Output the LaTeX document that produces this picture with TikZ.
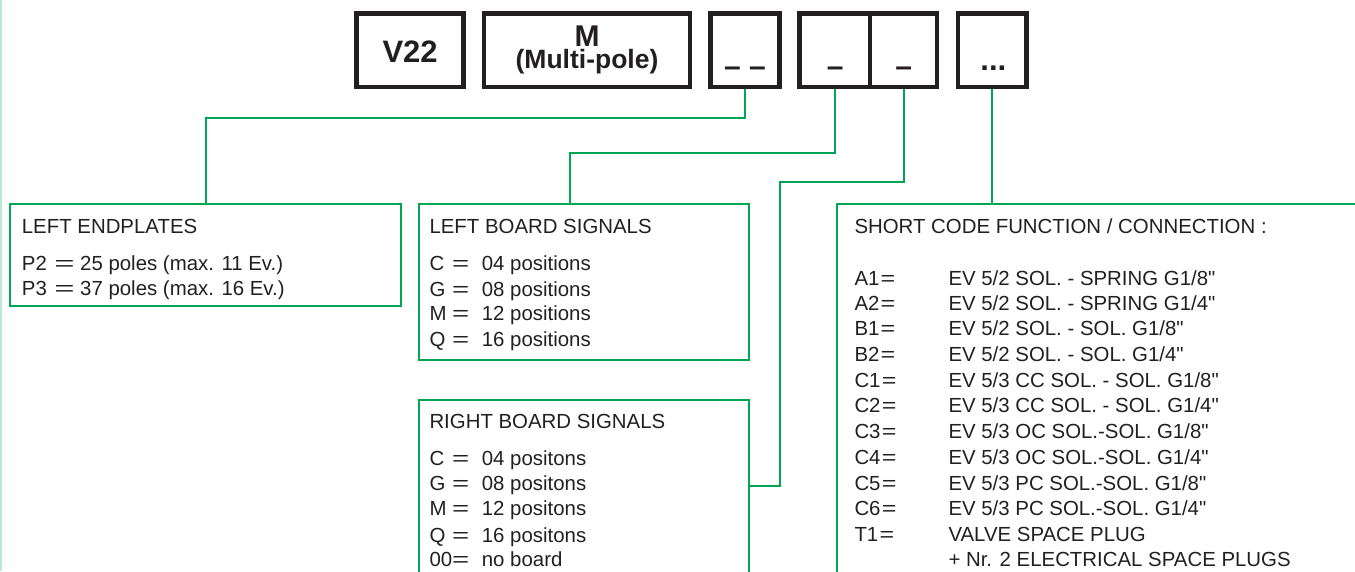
\documentclass[tikz,border=0pt]{standalone}
\usepackage{graphicx}
\usepackage{fontspec}
\setmainfont{Liberation Sans}
\definecolor{grn}{RGB}{0,166,81}
\definecolor{ink}{RGB}{35,31,32}
\definecolor{mint}{RGB}{185,235,212}
\newcommand\myeqsign[1]{\scalebox{#1}[1]{=}}
\begin{document}
\begin{tikzpicture}[x=1pt,y=-1pt,
  topbox/.style={draw=ink,line width=4.5pt,inner sep=0,minimum height=73.7pt},
  grnbox/.style={draw=grn,line width=2pt,inner sep=0},
  conn/.style={draw=grn,line width=2pt},
  txt/.style={anchor=base west,inner sep=0,text=ink,font=\fontsize{20.4}{24}\selectfont},
  btxt/.style={anchor=base,inner sep=0,text=ink}]
\useasboundingbox (0,0) rectangle (1355,571);
\clip (0,0) rectangle (1355,571);
\draw[mint,line width=1.5pt] (0.75,0) -- (0.75,571);

% top code boxes
\node[topbox,minimum width=106.8pt] (v22) at (410.1,50.15) {};
\node[topbox,minimum width=206pt] (mm) at (587,50.15) {};
\node[topbox,minimum width=68.6pt] (dd) at (745,50.15) {};
\node[topbox,minimum width=70.3pt] (s1) at (834.85,50.15) {};
\node[topbox,minimum width=67pt] (s2) at (903.5,50.15) {};
\node[topbox,minimum width=68.7pt] (dots) at (992.35,50.15) {};

\node[btxt,font=\bfseries\fontsize{31}{31}\selectfont] (tv22) at (410.1,62) {V22};
\node[btxt,font=\bfseries\fontsize{26.5}{26.5}\selectfont] (tm) at (587,68.3)
  {\ooalign{\hfil\raisebox{21.6pt}{\fontsize{30}{30}\selectfont M}\hfil\cr (Multi-pole)\cr}};
\node[btxt,font=\bfseries\fontsize{30}{30}\selectfont] (tdd) at (745,76.5) {– –};
\node[btxt,font=\bfseries\fontsize{30}{30}\selectfont] (ts1) at (835.3,76.5) {–};
\node[btxt,font=\bfseries\fontsize{30}{30}\selectfont] (ts2) at (903.7,76.5) {–};
\node[btxt,font=\bfseries\fontsize{31}{31}\selectfont] (tdots) at (993.3,70) {...};

% green boxes
\node[grnbox,minimum width=391pt,minimum height=102pt] (le) at (205.5,255) {};
\node[grnbox,minimum width=330pt,minimum height=156pt] (lb) at (583.5,282) {};
\node[grnbox,minimum width=330pt,minimum height=300.5pt] (rb) at (583.5,549.75) {};
\node[grnbox,minimum width=763pt,minimum height=496pt] (sc) at (1218.5,452) {};

% connectors
\coordinate (c1) at (205.7,117.7);
\coordinate (c2) at (570,153.3);
\coordinate (c3) at (780,181.7);
\coordinate (c4) at (780,485.7);
\draw[conn] (dd.south) |- (c1) -- (c1 |- le.north);
\draw[conn] (s1.south) |- (c2) -- (c2 |- lb.north);
\draw[conn] (s2.south) |- (c3) |- (c4 -| rb.east);
\draw[conn] (dots.south) -- (dots.south |- sc.north);

% left endplates
\node[txt] (le0) at (21.7,233.3) {LEFT ENDPLATES};
\node[txt] (le1) at (21.7,270) {P2\kern7.6pt\myeqsign{1.7}\kern5.5pt 25 poles (max. 11 Ev.)};
\node[txt] (le2) at (21.7,295) {P3\kern7.6pt\myeqsign{1.7}\kern5.5pt 37 poles (max. 16 Ev.)};

% left board signals
\node[txt] (lb0) at (429.3,233.3) {LEFT BOARD SIGNALS};
\foreach \c/\v/\y [count=\i] in {C/04 positions/270, G/08 positions/296,
  M/12 positions/320.7, Q/16 positions/346.7}{
  \node[txt] (lbc\i) at (429.3,\y) {\c};
  \node[txt] (lbe\i) at (451.9,\y) {\myeqsign{1.44}};
  \node[txt] (lbv\i) at (481.7,\y) {\v};
}

% right board signals
\node[txt] (rb0) at (429.3,428.3) {RIGHT BOARD SIGNALS};
\foreach \c/\v/\y [count=\i] in {C/04 positons/465, G/08 positons/490,
  M/12 positons/515.7, Q/16 positons/542, 00/no board/566.7}{
  \node[txt] (rbc\i) at (429.3,\y) {\c};
  \node[txt] (rbe\i) at (451.9,\y) {\myeqsign{1.44}};
  \node[txt] (rbv\i) at (481.7,\y) {\v};
}

% short code
\node[txt] (sc0) at (854.3,233.3) {SHORT CODE FUNCTION / CONNECTION :};
\foreach \c/\d/\y [count=\i] in {
  A1/{EV 5/2 SOL. - SPRING G1/8\textquotedbl}/285,
  A2/{EV 5/2 SOL. - SPRING G1/4\textquotedbl}/310.7,
  B1/{EV 5/2 SOL. - SOL. G1/8\textquotedbl}/335.7,
  B2/{EV 5/2 SOL. - SOL. G1/4\textquotedbl}/361.7,
  C1/{EV 5/3 CC SOL. - SOL. G1/8\textquotedbl}/387.7,
  C2/{EV 5/3 CC SOL. - SOL. G1/4\textquotedbl}/412.7,
  C3/{EV 5/3 OC SOL.-SOL. G1/8\textquotedbl}/438.7,
  C4/{EV 5/3 OC SOL.-SOL. G1/4\textquotedbl}/464,
  C5/{EV 5/3 PC SOL.-SOL. G1/8\textquotedbl}/490,
  C6/{EV 5/3 PC SOL.-SOL. G1/4\textquotedbl}/515,
  T1/{VALVE SPACE PLUG}/541}{
  \node[txt] (sca\i) at (854.3,\y) {\c\kern1.25pt\myeqsign{1.23}};
  \node[txt] (scb\i) at (948.3,\y) {\d};
}
\node[txt] (scb12) at (948.3,566.7) {+ Nr. 2 ELECTRICAL SPACE PLUGS};
\end{tikzpicture}
\end{document}
